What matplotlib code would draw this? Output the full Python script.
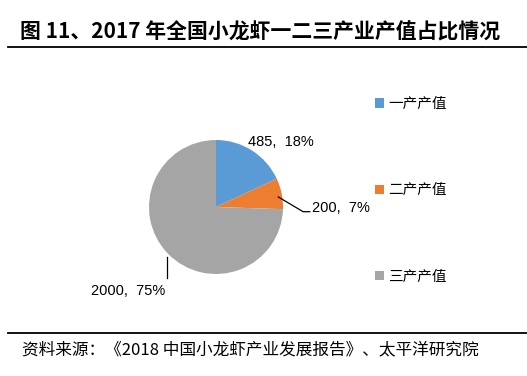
import matplotlib
matplotlib.use("Agg")
import matplotlib.pyplot as plt
from matplotlib.patches import Patch
from matplotlib.lines import Line2D

plt.rcParams['font.family'] = ['Noto Sans CJK SC', 'DejaVu Sans']

# data
categories = ['一产产值', '二产产值', '三产产值']
values = [485, 200, 2000]
pct_labels = ['485,  18%', '200,  7%', '2000,  75%']
colors = ['#5B9BD5', '#ED7D31', '#A5A5A5']

W, H = 527, 376
fig = plt.figure(figsize=(W / 100, H / 100), dpi=100)

# title and rules
fig.text(20 / W, 1 - 32 / H, '图 11、2017 年全国小龙虾一二三产业产值占比情况',
         fontsize=15, fontweight='bold', va='center', ha='left')
fig.add_artist(Line2D([8 / W, 1], [1 - 47 / H] * 2, color='black', lw=1.3))
fig.add_artist(Line2D([8 / W, 1], [1 - 333 / H] * 2, color='black', lw=1.3))
fig.text(22 / W, 1 - 350 / H, '资料来源：《2018 中国小龙虾产业发展报告》、太平洋研究院',
         fontsize=12, style='italic', va='center', ha='left')

# pie
cx, cy, r = 216, 207, 67
ax = fig.add_axes([(cx - r) / W, (H - cy - r) / H, 2 * r / W, 2 * r / H])
ax.pie(values, colors=colors, startangle=90, counterclock=False, radius=1)
ax.set_xlim(-1, 1)
ax.set_ylim(-1, 1)
ax.set_aspect('equal')
ax.axis('off')

lab_font = dict(family=['Liberation Sans', 'DejaVu Sans'], fontsize=10.5)
ax.text(0.97, 0.97, pct_labels[0], ha='center', va='center', clip_on=False, **lab_font)
ax.plot([0.93, 1.30, 1.40], [0.15, -0.07, -0.07], color='black', lw=0.9, clip_on=False)
ax.text(1.44, -0.02, pct_labels[1], ha='left', va='center', clip_on=False, **lab_font)
ax.plot([-0.73, -0.73], [-0.75, -1.06], color='black', lw=0.9, clip_on=False)
ax.text(-0.76, -1.25, pct_labels[2], ha='right', va='center', clip_on=False, **lab_font)

# legend
handles = [Patch(facecolor=c, edgecolor='none') for c in colors]
fig.legend(handles, categories, loc='upper left',
           bbox_to_anchor=(362 / W, 1 - 84 / H), frameon=False,
           fontsize=10.5, handlelength=0.6, handleheight=0.6,
           handletextpad=0.3, labelspacing=4.95)

fig.savefig('out.png', dpi=100)
